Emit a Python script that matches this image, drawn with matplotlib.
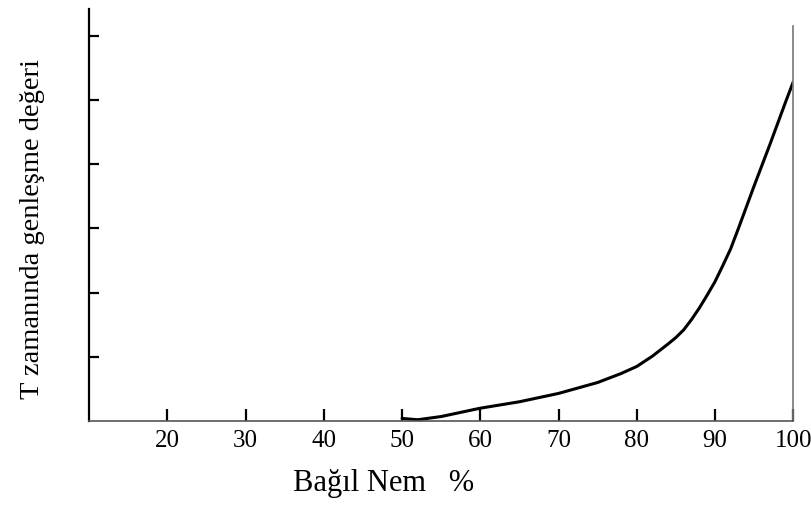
import matplotlib
matplotlib.use("Agg")
import matplotlib.pyplot as plt
from matplotlib import rc

rc('font', **{'family': 'serif', 'serif': ['Liberation Serif', 'DejaVu Serif']})

# curve (relative humidity % vs. expansion value)
nem = [50, 52, 55, 60, 65, 70, 75, 78, 80, 82, 84, 85, 86, 87, 88, 89,
       90, 91, 92, 93, 94, 95, 96, 97, 98, 99, 100]
genlesme = [0.04, 0.02, 0.07, 0.2, 0.3, 0.43, 0.6, 0.74, 0.85, 1.01, 1.2,
            1.3, 1.42, 1.58, 1.76, 1.96, 2.17, 2.42, 2.68, 3.0, 3.33,
            3.66, 3.98, 4.3, 4.63, 4.96, 5.28]
xticks = [20, 30, 40, 50, 60, 70, 80, 90, 100]
yticks = [1, 2, 3, 4, 5, 6]


def main():
    fig = plt.figure(figsize=(8.11, 5.10), dpi=100)
    ax = fig.add_axes([0.110, 0.1725, 0.868, 0.808])

    ax.plot(nem, genlesme, color='black', lw=2.2, solid_joinstyle='round',
            solid_capstyle='round')

    ax.set_xlim(10, 100)
    ax.set_ylim(0, 6.42)
    ax.set_xticks(xticks)
    ax.set_xticklabels([str(t) for t in xticks])
    ax.set_yticks(yticks)
    ax.set_yticklabels([])

    ax.spines['top'].set_visible(False)
    ax.spines['left'].set_linewidth(1.6)
    ax.spines['bottom'].set_linewidth(1.2)
    ax.spines['bottom'].set_color('#555555')
    ax.spines['right'].set_linewidth(1.2)
    ax.spines['right'].set_color('#777777')
    ax.spines['right'].set_bounds(0, 6.15)

    ax.tick_params(axis='x', direction='in', length=9, width=1.6, pad=6,
                   labelsize=18, colors='black')
    ax.tick_params(axis='y', direction='in', length=7, width=1.6, right=False)

    ax.set_xlabel("Bağıl Nem   %", fontsize=22)
    ax.xaxis.set_label_coords(0.418, -0.149)
    ax.xaxis.label.set_va('center')
    ax.set_ylabel("T zamanında genleşme değeri", fontsize=20.5)
    ax.yaxis.set_label_coords(-0.081, 0.468)
    ax.yaxis.label.set_va('center')

    plt.savefig("out.png", dpi=100)


if __name__ == '__main__':
    main()
